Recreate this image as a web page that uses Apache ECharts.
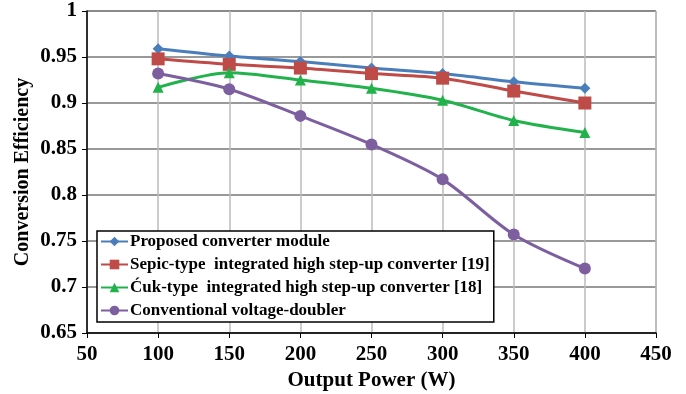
<!DOCTYPE html>
<html>
<head>
<meta charset="utf-8">
<script src="https://cdn.jsdelivr.net/npm/echarts@6/dist/echarts.min.js"></script>
<style>
  html, body { margin: 0; padding: 0; background: #fff; }
  #chart { width: 686px; height: 394px; }
</style>
</head>
<body>
<div id="chart"></div>
<script>
// data
const powers = [100, 150, 200, 250, 300, 350, 400];
const proposed = [0.959, 0.951, 0.945, 0.938, 0.932, 0.923, 0.916];
const sepic = [0.948, 0.942, 0.938, 0.932, 0.927, 0.913, 0.900];
const cuk = [0.917, 0.933, 0.925, 0.916, 0.903, 0.881, 0.868];
const doubler = [0.932, 0.915, 0.886, 0.855, 0.817, 0.757, 0.720];

const names = [
  'Proposed converter module',
  'Sepic-type  integrated high step-up converter [19]',
  'Ćuk-type  integrated high step-up converter [18]',
  'Conventional voltage-doubler',
];

const font = 'Liberation Serif';

function pairs(vals) {
  return powers.map((p, i) => [p, vals[i]]);
}

function makeSeries(name, vals, color, symbol, size) {
  return {
    name: name,
    type: 'line',
    data: pairs(vals),
    smooth: 0.3,
    symbol: symbol,
    symbolSize: size,
    lineStyle: { color: color, width: 3 },
    itemStyle: { color: color },
  };
}

const myChart = echarts.init(document.getElementById('chart'));
myChart.setOption({
  backgroundColor: '#fff',
  animation: false,
  grid: {
    left: 87,
    right: 30,
    top: 11,
    bottom: 61,
    outerBoundsMode: 'none',
    show: true,
    borderColor: '#888',
    borderWidth: 1,
  },
  legend: {
    orient: 'vertical',
    left: 97,
    top: 231,
    data: names,
    backgroundColor: '#fff',
    borderColor: '#000',
    borderWidth: 1.5,
    borderRadius: 0,
    padding: [2, 4, 3, 3],
    itemGap: 6,
    itemWidth: 27,
    itemHeight: 12,
    textStyle: {
      fontFamily: font,
      fontWeight: 'bold',
      fontSize: 17,
      color: '#000',
      padding: [0, 0, 0, -3],
    },
  },
  xAxis: {
    type: 'value',
    min: 50,
    max: 450,
    interval: 50,
    name: 'Output Power (W)',
    nameLocation: 'middle',
    nameGap: 37,
    nameMoveOverlap: false,
    nameTextStyle: { fontFamily: font, fontWeight: 'bold', fontSize: 21, color: '#000' },
    axisLine: { lineStyle: { color: '#000', width: 1.5 } },
    axisTick: { show: true, length: 5, lineStyle: { color: '#000' } },
    axisLabel: { fontFamily: font, fontWeight: 'bold', fontSize: 21, color: '#000', margin: 11 },
    splitLine: { show: true, lineStyle: { color: '#bbb', width: 1.5 } },
  },
  yAxis: {
    type: 'value',
    min: 0.65,
    max: 1,
    interval: 0.05,
    name: 'Conversion Efficiency',
    nameLocation: 'middle',
    nameGap: 54,
    nameMoveOverlap: false,
    nameTextStyle: { fontFamily: font, fontWeight: 'bold', fontSize: 20, color: '#000' },
    axisLine: { show: true, lineStyle: { color: '#000', width: 1.5 } },
    axisTick: { show: true, length: 5, lineStyle: { color: '#000' } },
    axisLabel: { fontFamily: font, fontWeight: 'bold', fontSize: 21, color: '#000', margin: 10 },
    splitLine: { show: true, lineStyle: { color: '#777', width: 1.5 } },
  },
  series: [
    makeSeries(names[0], proposed, '#4a7ebb', 'diamond', 11),
    makeSeries(names[1], sepic, '#be4b48', 'rect', 13),
    makeSeries(names[2], cuk, '#22b24c', 'triangle', 11),
    makeSeries(names[3], doubler, '#7d5fa0', 'circle', 12),
  ],
});
</script>
</body>
</html>
